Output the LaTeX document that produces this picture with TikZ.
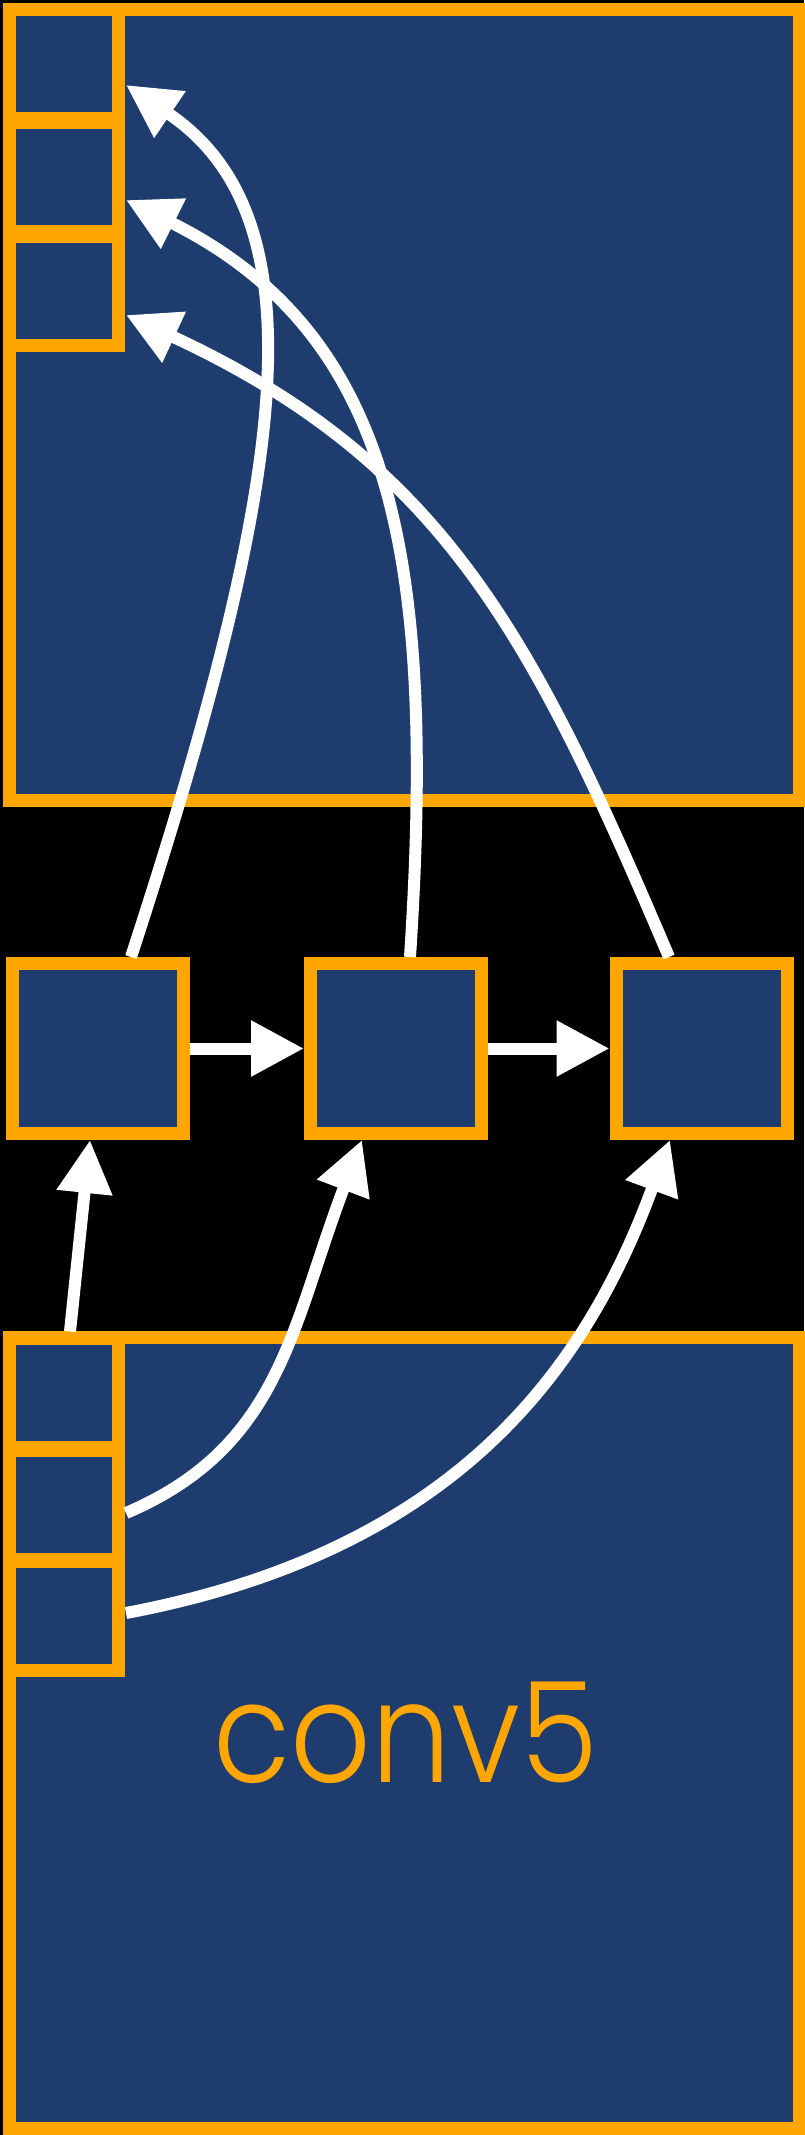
\documentclass[tikz,border=0pt]{standalone}
\usepackage{graphicx}
\usepackage{fontspec}
\IfFontExistsTF{Poppins Light}
  {\newfontfamily\labelfont{Poppins Light}}
  {\newfontfamily\labelfont{Poppins}}
\usetikzlibrary{arrows.meta,calc}
\definecolor{navy}{RGB}{31,60,110}
\definecolor{amber}{RGB}{255,166,0}
\begin{document}
\begin{tikzpicture}[x=1pt,y=-1pt,
  box/.style={draw=amber, fill=navy, line width=13pt, inner sep=0pt, outer sep=6.5pt},
  big/.style={box, minimum width=790pt, minimum height=791pt},
  cell/.style={box, minimum width=109pt, minimum height=109pt},
  unit/.style={box, minimum width=171pt, minimum height=170pt},
  link/.style={draw=white, line width=12pt, -{Triangle[length=53pt,width=53pt]}}]
  % canvas
  \fill[black] (0,0) rectangle (804,2135);
  \useasboundingbox (0,0) rectangle (804,2135);

  % upper feature map with its three cells
  \node[big] (top) at (404.5,405) {};
  \node[cell] (t1) at (64,64) {};
  \node[cell] (t2) at (64,177) {};
  \node[cell] (t3) at (64,291) {};

  % recurrent units
  \node[unit] (m1) at (98,1048.5) {};
  \node[unit] (m2) at (396,1048.5) {};
  \node[unit] (m3) at (701.5,1048.5) {};

  % conv5 feature map with its three cells
  \node[big] (bot) at (404.5,1733) {};
  \node[cell] (b1) at (64,1392.5) {};
  \node[cell] (b2) at (64,1504.5) {};
  \node[cell] (b3) at (64,1616) {};
  \node[text=amber, font=\labelfont\fontsize{140pt}{140pt}\selectfont,
        anchor=base, inner sep=0pt] (lbl) at (406,1782) {\scalebox{0.9}[1]{conv5}};

  % chain between units
  \draw[link] (m1.east) -- (m2.west);
  \draw[link] (m2.east) -- (m3.west);

  % inputs from conv5 cells
  \draw[link] ($(b1.north)+(6,0)$) -- ($(m1.south)+(-8,0)$);
  \draw[link] ($(b2.east)+(1,8.5)$) .. controls +(155,-66) and +(-71,187) .. ($(m2.south)+(-34,0)$);
  \draw[link] ($(b3.east)+(1,-3)$) .. controls +(334,-63) and +(-83,225) .. ($(m3.south)+(-31.5,0)$);

  % outputs to upper cells
  \draw[link] ($(m1.north)+(33,0)$) .. controls +(155,-475) and +(199,134) .. ($(t1.east)+(1,21)$);
  \draw[link] ($(m2.north)+(14,0)$) .. controls +(26,-399) and +(268,134) .. ($(t2.east)+(1,23)$);
  \draw[link] ($(m3.north)+(-32.5,0)$) .. controls +(-137,-322) and +(317,147) .. ($(t3.east)+(1,24)$);
\end{tikzpicture}
\end{document}
